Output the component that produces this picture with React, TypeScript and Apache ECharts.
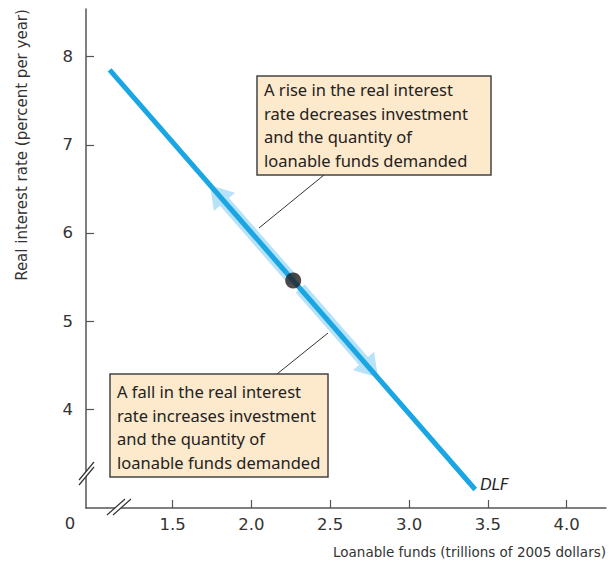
import React, { useEffect, useRef } from "react";
import * as echarts from "echarts";

// Axis range (break at origin)
const xMin = 0.95;
const xMax = 4.25;
const yMin = 2.88;
const yMax = 8.54;

const xTicks = [1.5, 2.0, 2.5, 3.0, 3.5, 4.0];
const yTicks = [4, 5, 6, 7, 8];

// Demand for loanable funds curve DLF: [loanable funds, real interest rate]
const dlfPoints = [
  [1.1, 7.85],
  [3.42, 3.09],
];

// Equilibrium point on DLF
const pointData = [[2.265, 5.46]];

// Movement arrows along DLF: [fromX, fromY, toX, toY]
const arrowData = [
  [2.265, 5.46, 1.737, 6.54],
  [2.31, 5.37, 2.803, 4.36],
];

const riseText = [
  "A rise in the real interest",
  "rate decreases investment",
  "and the quantity of",
  "loanable funds demanded",
];
const fallText = [
  "A fall in the real interest",
  "rate increases investment",
  "and the quantity of",
  "loanable funds demanded",
];

const FONT = "'DejaVu Sans', sans-serif";
const BOX_FONT = "'Noto Sans', sans-serif";
const AXIS_COLOR = "#555";
const TEXT_COLOR = "#333";

export default function App() {
  const ref = useRef<HTMLDivElement>(null);

  useEffect(() => {
    if (!ref.current) return;
    const chart = echarts.init(ref.current, null, { renderer: "svg" });

    const renderArrow = (params: any, api: any) => {
      const p0 = api.coord([api.value(0), api.value(1)]);
      const p1 = api.coord([api.value(2), api.value(3)]);
      const dx = p1[0] - p0[0];
      const dy = p1[1] - p0[1];
      const len = Math.sqrt(dx * dx + dy * dy);
      const ux = dx / len;
      const uy = dy / len;
      const nx = -uy;
      const ny = ux;
      const hw = 6;
      const headLen = 22;
      const headHw = 14;
      const bx = p1[0] - ux * headLen;
      const by = p1[1] - uy * headLen;
      const pts = [
        [p0[0] + nx * hw, p0[1] + ny * hw],
        [bx + nx * hw, by + ny * hw],
        [bx + nx * headHw, by + ny * headHw],
        [p1[0], p1[1]],
        [bx - nx * headHw, by - ny * headHw],
        [bx - nx * hw, by - ny * hw],
        [p0[0] - nx * hw, p0[1] - ny * hw],
      ];
      return {
        type: "polygon",
        shape: { points: pts },
        style: { fill: "#b7e2f8" },
      };
    };

    const boxText = (lines: string[], x: number, y: number) => ({
      type: "text",
      x,
      y,
      z: 101,
      style: {
        text: lines.join("\n"),
        fontFamily: BOX_FONT,
        fontSize: 16.5,
        lineHeight: 23.5,
        fill: "#222",
        textAlign: "left",
        textVerticalAlign: "top",
      },
    });

    chart.setOption({
      animation: false,
      backgroundColor: "#fff",
      grid: { left: 86, right: 6, top: 9, bottom: 57 },
      xAxis: {
        type: "value",
        min: xMin,
        max: xMax,
        splitLine: { show: false },
        axisLine: { lineStyle: { color: AXIS_COLOR, width: 1.5 } },
        axisTick: {
          inside: true,
          length: 8,
          customValues: xTicks,
          lineStyle: { color: AXIS_COLOR, width: 1.2 },
        },
        axisLabel: {
          customValues: xTicks,
          formatter: (v: number) => v.toFixed(1),
          fontFamily: FONT,
          fontSize: 16.5,
          color: TEXT_COLOR,
          margin: 8,
        },
      },
      yAxis: {
        type: "value",
        min: yMin,
        max: yMax,
        splitLine: { show: false },
        axisLine: { lineStyle: { color: AXIS_COLOR, width: 1.5 } },
        axisTick: {
          inside: true,
          length: 8,
          customValues: yTicks,
          lineStyle: { color: AXIS_COLOR, width: 1.2 },
        },
        axisLabel: {
          customValues: yTicks,
          formatter: (v: number) => String(v),
          fontFamily: FONT,
          fontSize: 16.5,
          color: TEXT_COLOR,
          margin: 13,
        },
      },
      series: [
        {
          type: "custom",
          renderItem: renderArrow,
          data: arrowData,
          z: 2,
          silent: true,
        },
        {
          type: "line",
          data: dlfPoints,
          symbol: "none",
          z: 3,
          lineStyle: { color: "#19a6e2", width: 5, cap: "butt" },
          endLabel: {
            show: true,
            formatter: "DLF",
            fontFamily: FONT,
            fontStyle: "italic",
            fontSize: 15,
            color: "#222",
            distance: 5,
            offset: [0, -4],
          },
        },
        {
          type: "scatter",
          data: pointData,
          symbol: "circle",
          symbolSize: 16,
          z: 4,
          itemStyle: { color: "#231f20" },
        },
      ],
      graphic: [
        // annotation boxes
        {
          type: "rect",
          z: 100,
          shape: { x: 257, y: 76, width: 234, height: 99 },
          style: { fill: "#fde9cc", stroke: "#444", lineWidth: 1.5 },
        },
        boxText(riseText, 264, 78),
        {
          type: "rect",
          z: 100,
          shape: { x: 110, y: 374, width: 218, height: 103 },
          style: { fill: "#fde9cc", stroke: "#444", lineWidth: 1.5 },
        },
        boxText(fallText, 117, 380),
        // leader lines
        {
          type: "line",
          z: 100,
          shape: { x1: 324, y1: 175, x2: 259, y2: 228 },
          style: { stroke: "#333", lineWidth: 1 },
        },
        {
          type: "line",
          z: 100,
          shape: { x1: 277, y1: 374, x2: 328, y2: 333 },
          style: { stroke: "#333", lineWidth: 1 },
        },
        // y-axis break
        {
          type: "polygon",
          z: 100,
          shape: { points: [[79, 485], [94, 467], [94, 462], [79, 480]] },
          style: { fill: "#fff" },
        },
        {
          type: "line",
          z: 101,
          shape: { x1: 79, y1: 485, x2: 94, y2: 467 },
          style: { stroke: "#333", lineWidth: 1.2 },
        },
        {
          type: "line",
          z: 101,
          shape: { x1: 79, y1: 480, x2: 94, y2: 462 },
          style: { stroke: "#333", lineWidth: 1.2 },
        },
        // x-axis break
        {
          type: "polygon",
          z: 100,
          shape: { points: [[107, 515], [125, 499], [131, 499], [113, 515]] },
          style: { fill: "#fff" },
        },
        {
          type: "line",
          z: 101,
          shape: { x1: 107, y1: 515, x2: 125, y2: 499 },
          style: { stroke: "#333", lineWidth: 1.2 },
        },
        {
          type: "line",
          z: 101,
          shape: { x1: 113, y1: 515, x2: 131, y2: 499 },
          style: { stroke: "#333", lineWidth: 1.2 },
        },
        // origin label
        {
          type: "text",
          x: 70,
          y: 523,
          z: 101,
          style: {
            text: "0",
            fontFamily: FONT,
            fontSize: 16.5,
            fill: TEXT_COLOR,
            textAlign: "center",
            textVerticalAlign: "middle",
          },
        },
        // axis titles
        {
          type: "text",
          x: 22,
          y: 145,
          rotation: Math.PI / 2,
          z: 101,
          style: {
            text: "Real interest rate (percent per year)",
            fontFamily: FONT,
            fontSize: 15,
            fill: TEXT_COLOR,
            textAlign: "center",
            textVerticalAlign: "middle",
          },
        },
        {
          type: "text",
          x: 606,
          y: 552,
          z: 101,
          style: {
            text: "Loanable funds (trillions of 2005 dollars)",
            fontFamily: FONT,
            fontSize: 13.5,
            fill: TEXT_COLOR,
            textAlign: "right",
            textVerticalAlign: "middle",
          },
        },
      ],
    });

    return () => chart.dispose();
  }, []);

  return <div ref={ref} style={{ width: 612, height: 565, position: "absolute", left: 0, top: 0 }} />;
}
